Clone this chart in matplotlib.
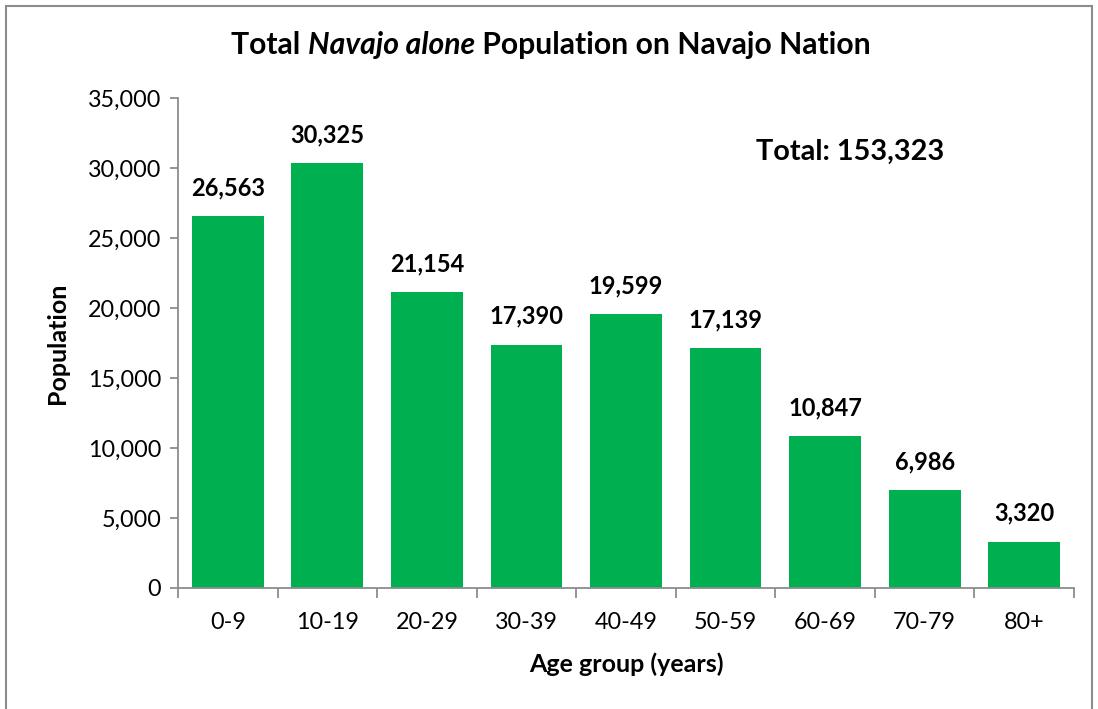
import matplotlib
matplotlib.use("Agg")
import matplotlib.pyplot as plt
from matplotlib.patches import Rectangle

categories = ["0-9", "10-19", "20-29", "30-39", "40-49", "50-59", "60-69", "70-79", "80+"]
population = [26563, 30325, 21154, 17390, 19599, 17139, 10847, 6986, 3320]
yticks = [0, 5000, 10000, 15000, 20000, 25000, 30000, 35000]
total_label = "Total: 153,323"

FONT = "Lato"
plt.rcParams['font.family'] = [FONT, 'DejaVu Sans']

W, H = 1098, 709
fig = plt.figure(figsize=(W / 100, H / 100), dpi=100)
fig.patches.append(Rectangle((6 / W, -0.01), (1092 - 6) / W, (H - 6) / H + 0.01,
                             transform=fig.transFigure, fill=False,
                             edgecolor="#8c8c8c", linewidth=1.5))

ax_l, ax_r, ax_t, ax_b = 178, 1074, 98, 588
ax = fig.add_axes([ax_l / W, 1 - ax_b / H, (ax_r - ax_l) / W, (ax_b - ax_t) / H])

x = list(range(len(categories)))
bars = ax.bar(x, population, width=0.72, color="#00B050")
ax.set_xlim(-0.5, len(categories) - 0.5)
ax.set_ylim(0, 35000)
ax.set_yticks(yticks)
ax.set_yticklabels([f"{v:,}" for v in yticks], fontsize=16.8)
ax.set_xticks([i - 0.5 for i in range(len(categories) + 1)])
ax.set_xticklabels([])
ax.set_xticks(x, minor=True)
ax.set_xticklabels(categories, minor=True, fontsize=16.8)
ax.tick_params(axis='x', which='minor', length=0, pad=17)
ax.tick_params(axis='x', which='major', length=7, color="#8c8c8c", width=1.3)
ax.tick_params(axis='y', length=6, color="#8c8c8c", width=1.3, pad=6)
for s in ["top", "right"]:
    ax.spines[s].set_visible(False)
for s in ["left", "bottom"]:
    ax.spines[s].set_color("#8c8c8c")
    ax.spines[s].set_linewidth(1.3)

for xi, v in zip(x, population):
    ax.annotate(f"{v:,}", (xi, v), xytext=(0, 12), textcoords="offset points",
                ha="center", va="bottom", fontsize=17, fontweight="bold")

ax.set_ylabel("Population", fontsize=18, fontweight="bold", labelpad=14)
ax.set_xlabel("Age group (years)", fontsize=18, fontweight="bold", labelpad=14)

ax.text(0.75, 0.89, total_label, transform=ax.transAxes, fontsize=20.8,
        fontweight="bold", ha="center", va="center")

# Title with italic middle part
parts = [("Total ", "normal"), ("Navajo alone", "italic"), (" Population on Navajo Nation", "normal")]
fig.canvas.draw()
renderer = fig.canvas.get_renderer()
texts = []
widths = []
for s, style in parts:
    t = fig.text(0, 1 - 45 / H, s, fontsize=21.7, fontweight="bold", style=style,
                 ha="left", va="center")
    bb = t.get_window_extent(renderer)
    texts.append(t)
    widths.append(bb.width)
total_w = sum(widths)
start = 551 - total_w / 2
for t, w in zip(texts, widths):
    t.set_x(start / W)
    start += w

fig.savefig("out.png", dpi=100)
